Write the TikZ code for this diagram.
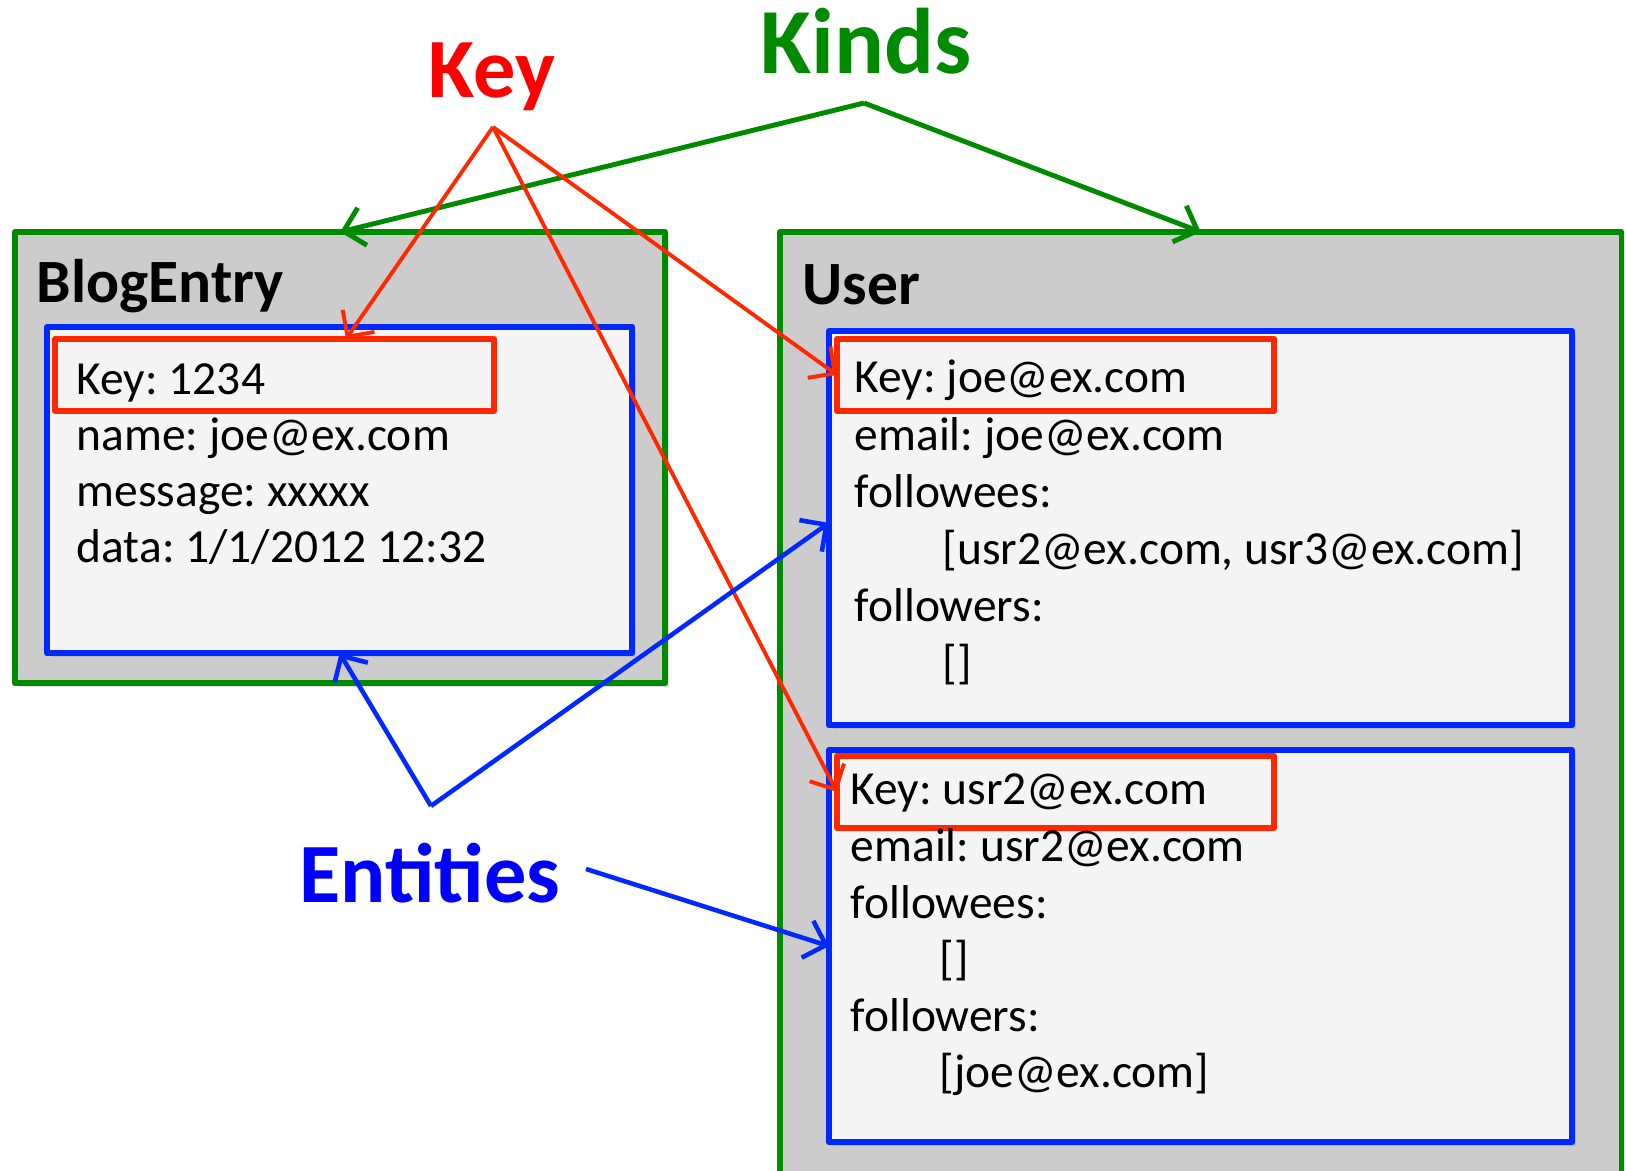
\documentclass[tikz,border=0pt]{standalone}
\usepackage{fontspec}
\setmainfont{Carlito}
\usetikzlibrary{arrows.meta,shadows}
\definecolor{kindgreen}{RGB}{0,138,0}
\definecolor{kindgray}{RGB}{204,204,204}
\definecolor{entblue}{RGB}{0,40,255}
\definecolor{entgray}{RGB}{244,244,244}
\definecolor{keyred}{RGB}{255,40,0}
\frenchspacing
\begin{document}
\begin{tikzpicture}[x=0.01cm, y=-0.01cm, line join=round,
  kindbox/.style={draw=kindgreen, fill=kindgray, line width=1.7pt, anchor=north west,
    inner sep=0pt, outer sep=0pt,
    drop shadow={shadow xshift=1pt, shadow yshift=-1pt, opacity=0.25}},
  entbox/.style={draw=entblue, fill=entgray, line width=1.7pt, anchor=north west,
    inner sep=0pt, outer sep=0pt,
    drop shadow={shadow xshift=1pt, shadow yshift=-1pt, opacity=0.25}},
  keybox/.style={draw=keyred, line width=1.7pt, anchor=north west, inner sep=0pt, outer sep=0pt},
  fieldtext/.style={anchor=base west, inner sep=0pt, font=\fontsize{13.5}{16}\selectfont},
  kindtitle/.style={anchor=base west, inner sep=0pt, font=\fontsize{17.5}{21}\selectfont\bfseries},
  kindarrow/.style={draw=kindgreen, line width=1.4pt, -{Straight Barb[length=5.5pt, width=11pt]}},
  keyarrow/.style={draw=keyred, line width=1.1pt, -{Straight Barb[length=5.5pt, width=11pt]}},
  entarrow/.style={draw=entblue, line width=1.3pt, -{Straight Barb[length=5.5pt, width=11pt]}}]
  \useasboundingbox (0,0) rectangle (1626,1171);

  % Kinds
  \node[kindbox, minimum width=6.50cm, minimum height=4.51cm] (blogkind) at (15,232) {};
  \node[kindbox, minimum width=8.41cm, minimum height=9.70cm] (userkind) at (780,232) {};
  \node[kindtitle] (blogtitle) at (36,303) {BlogEntry};
  \node[kindtitle] (usertitle) at (802,305) {User};

  % Entities
  \node[entbox, minimum width=5.85cm, minimum height=3.26cm] (blogent) at (47,327) {};
  \node[entbox, minimum width=7.43cm, minimum height=3.94cm] (userA) at (829,331) {};
  \node[entbox, minimum width=7.43cm, minimum height=3.92cm] (userB) at (829,750) {};

  % Keys
  \node[keybox, minimum width=4.39cm, minimum height=0.72cm] (keyblog) at (55,339) {};
  \node[keybox, minimum width=4.37cm, minimum height=0.72cm] (keyA) at (837,339) {};
  \node[keybox, minimum width=4.37cm, minimum height=0.72cm] (keyB) at (837,756) {};

  % fields
  \foreach \t [count=\i] in {Key: 1234, name: joe@ex.com, message: xxxxx, data: 1/1/2012 12:32}
    \node[fieldtext] (blog-\i) at (76, {395+56*(\i-1)}) {\t};
  \foreach \dx/\t [count=\i] in {0/{Key: joe@ex.com}, 0/{email: joe@ex.com}, 0/{followees:},
      88/{[usr2@ex.com, usr3@ex.com]}, 0/{followers:}, 88/{[]}}
    \node[fieldtext] (userA-\i) at ({854+\dx}, {393+57.2*(\i-1)}) {\t};
  \foreach \dx/\t [count=\i] in {0/{Key: usr2@ex.com}, 0/{email: usr2@ex.com}, 0/{followees:},
      89/{[]}, 0/{followers:}, 89/{[joe@ex.com]}}
    \node[fieldtext] (userB-\i) at ({850+\dx}, {805+56.6*(\i-1)}) {\t};

  % labels
  \node[anchor=base, inner sep=0pt, text=kindgreen, font=\fontsize{26.5}{30}\selectfont\bfseries]
    (kinds) at (866,74) {Kinds};
  \node[anchor=base, inner sep=0pt, text=red, font=\fontsize{24}{28}\selectfont\bfseries]
    (key) at (492,98) {Key};
  \node[anchor=base, inner sep=0pt, text=blue, font=\fontsize{24}{28}\selectfont\bfseries]
    (ents) at (430,903) {Entities};

  \coordinate (kindsfork) at (864,103);
  \coordinate (keyfork) at (493,127);
  \coordinate (entsfork) at (431,806);
  \coordinate (entsout) at (586,869);
  \coordinate (keyblogtop) at (346,339);

  % arrows
  \draw[kindarrow] (kindsfork) -- (blogkind.north);
  \draw[kindarrow] (kindsfork) -- (userkind.north);
  \draw[keyarrow] (keyfork) -- (keyblogtop);
  \draw[keyarrow] (keyfork) -- (keyA.west);
  \draw[keyarrow] (keyfork) -- (keyB.west);
  \draw[entarrow] (entsfork) -- (blogent.south);
  \draw[entarrow] (entsfork) -- ([yshift=1.5pt]userA.west);
  \draw[entarrow] (entsout) -- (userB.west);
\end{tikzpicture}
\end{document}
